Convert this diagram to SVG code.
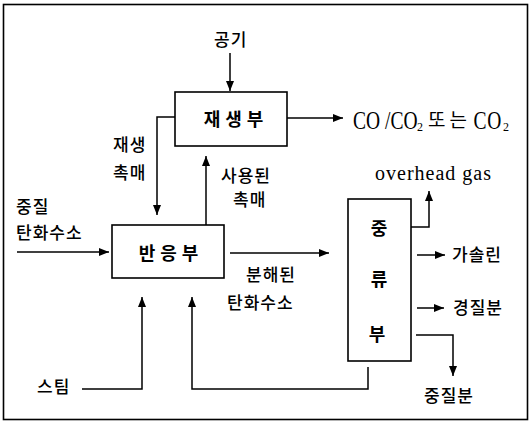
<svg xmlns="http://www.w3.org/2000/svg" width="531" height="422" viewBox="0 0 531 422">
<style>
.ln{fill:none;stroke:#000;stroke-width:1.5}
.bx{fill:#fff;stroke:#000;stroke-width:1.6}
.k{font-family:"Noto Sans CJK KR","Noto Sans",sans-serif;font-size:17px;font-weight:500;fill:#000;letter-spacing:1px}
.kb{font-family:"Noto Sans CJK KR","Noto Sans",sans-serif;font-size:18px;font-weight:bold;fill:#000;letter-spacing:5px}
.kc{font-family:"Noto Sans CJK KR","Noto Sans",sans-serif;font-size:18px;font-weight:bold;fill:#000}
.e{font-family:"Liberation Serif",serif;font-size:20px;fill:#000}
.co{font-family:"Liberation Serif",serif;font-size:25px;fill:#000}
.sub{font-family:"Liberation Serif",serif;font-size:12px;fill:#000}
</style>
<defs>
<marker id="ah" markerWidth="10" markerHeight="8" refX="10" refY="4" orient="auto" markerUnits="userSpaceOnUse">
<path d="M0,0 L10,4 L0,8 z" fill="#000"/>
</marker>
</defs>
<rect x="3.5" y="4.5" width="524" height="415" fill="none" stroke="#000" stroke-width="1.6"/>
<g id="connectors">
<path class="ln" d="M230,53 V91" marker-end="url(#ah)"/>
<path class="ln" d="M287,118 H343" marker-end="url(#ah)"/>
<path class="ln" d="M175,117 H157 V215" marker-end="url(#ah)"/>
<path class="ln" d="M206,225 V156" marker-end="url(#ah)"/>
<path class="ln" d="M17,252 H109" marker-end="url(#ah)"/>
<path class="ln" d="M230,253 H329" marker-end="url(#ah)"/>
<path class="ln" d="M411,227 H429 V191" marker-end="url(#ah)"/>
<path class="ln" d="M417,255 H445" marker-end="url(#ah)"/>
<path class="ln" d="M417,308 H444" marker-end="url(#ah)"/>
<path class="ln" d="M416,335 H453 V376" marker-end="url(#ah)"/>
<path class="ln" d="M368,367 V389 H192 V297" marker-end="url(#ah)"/>
<path class="ln" d="M82,389 H142 V297" marker-end="url(#ah)"/>
</g>
<g id="regenerator">
<rect class="bx" x="175" y="92" width="112" height="54"/>
<text class="kb" x="236" y="126" text-anchor="middle">재생부</text>
</g>
<g id="reactor">
<rect class="bx" x="112" y="225" width="112" height="53"/>
<text class="kb" x="171" y="260" text-anchor="middle">반응부</text>
</g>
<g id="distillation">
<rect class="bx" x="348" y="199" width="63" height="162"/>
<text class="kc" x="379" y="235" text-anchor="middle">중</text>
<text class="kc" x="379" y="286" text-anchor="middle">류</text>
<text class="kc" x="377" y="341" text-anchor="middle">부</text>
</g>
<g id="labels">
<text class="k" x="214" y="46">공기</text>
<g id="flue-gas">
<text class="co" transform="scale(0.78,1)" x="452.6" y="129">CO /CO</text>
<text class="sub" x="417" y="131">2</text>
<text class="k" x="428" y="127" style="font-size:19px;font-weight:400;letter-spacing:4px">또는</text>
<text class="co" transform="scale(0.78,1)" x="607" y="129" style="letter-spacing:1px">CO</text>
<text class="sub" x="503" y="131">2</text>
</g>
<text class="k" x="113" y="151">재생</text>
<text class="k" x="113" y="179">촉매</text>
<text class="k" x="16" y="213">중질</text>
<text class="k" x="16" y="239">탄화수소</text>
<text class="k" x="221" y="182">사용된</text>
<text class="k" x="233" y="206">촉매</text>
<text class="k" x="246" y="281">분해된</text>
<text class="k" x="227" y="309">탄화수소</text>
<text class="e" x="375" y="180" style="letter-spacing:1px">overhead gas</text>
<text class="k" x="452" y="261">가솔린</text>
<text class="k" x="453" y="314">경질분</text>
<text class="k" x="424" y="402">중질분</text>
<text class="k" x="37" y="393">스팀</text>
</g>
</svg>
